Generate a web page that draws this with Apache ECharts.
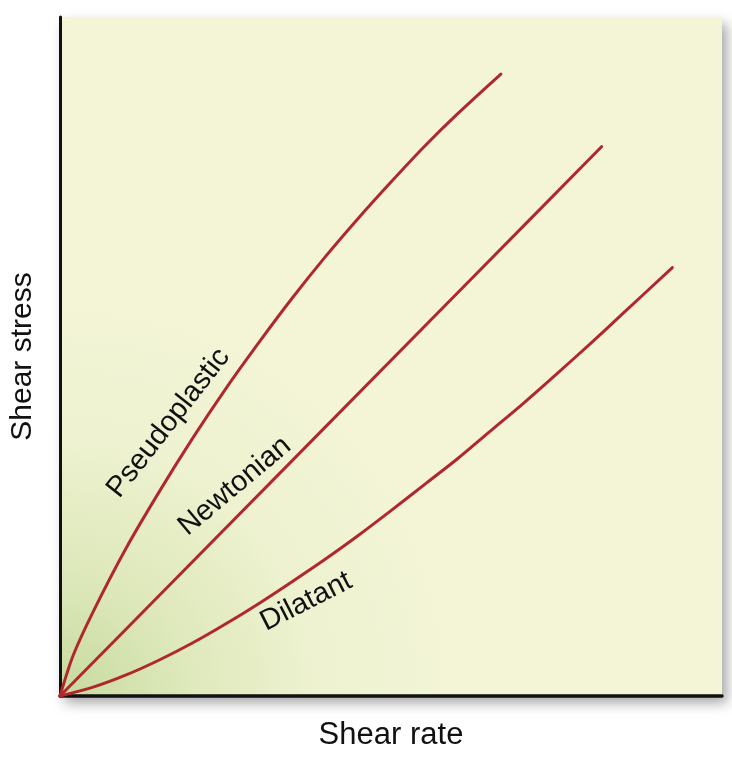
<!DOCTYPE html>
<html>
<head>
<meta charset="utf-8">
<script src="https://cdn.jsdelivr.net/npm/echarts@6/dist/echarts.min.js"></script>
<style>
html,body{margin:0;padding:0;background:#fff;}
#chart{width:732px;height:758px;}
</style>
</head>
<body>
<div id="chart"></div>
<script>
// Data (arbitrary units, 0-100 on both axes)
const pseudoX = [0, 2, 5, 10, 15, 20, 25, 30, 35, 40, 45, 50, 55, 60, 66.6];
const pseudoY = [0, 6.0, 12.4, 21.8, 30.1, 37.9, 45.2, 52.0, 58.5, 64.6, 70.3, 75.7, 80.9, 85.7, 91.6];
const newtonX = [0, 15.4, 61.3, 81.8];
const newtonY = [0, 15.2, 60.6, 80.9];
const dilatX = [0, 5, 10, 15, 20, 25, 30, 35, 40, 45, 50, 55, 60, 65, 70, 75, 80, 85, 92.5];
const dilatY = [0, 1.3, 3.1, 5.3, 7.8, 10.6, 13.6, 16.8, 20.1, 23.6, 27.3, 31.1, 34.9, 39.0, 43.1, 47.4, 51.8, 56.3, 63.1];
const curveNames = ['Pseudoplastic', 'Newtonian', 'Dilatant'];
const labelX = [16.4, 26.4, 37.2];
const labelY = [40.2, 30.9, 13.9];
const labelAngle = [52, 40, 27];
const xTitle = 'Shear rate';
const yTitle = 'Shear stress';

const zip = (xs, ys) => xs.map((x, i) => [x, ys[i]]);
const FONT = 'Liberation Sans, Arial, Helvetica, sans-serif';
const RED = '#B0282E';

const chart = echarts.init(document.getElementById('chart'), null, {renderer: 'canvas'});
const lineSeries = (name, data) => ({
  name, type: 'line', data, showSymbol: false, smooth: 0.3,
  lineStyle: {color: RED, width: 3, cap: 'round'}, silent: true, animation: false
});

chart.setOption({
  animation: false,
  grid: {
    left: 58, right: 10, top: 17, bottom: 62, show: true, borderWidth: 0,
    backgroundColor: {
      type: 'radial', x: 0, y: 1, r: 0.6,
      colorStops: [
        {offset: 0, color: '#C6DA9E'},
        {offset: 0.3, color: '#DDE8BA'},
        {offset: 0.65, color: '#EEF2D0'},
        {offset: 1, color: '#F3F5D6'}
      ]
    },
    shadowBlur: 12, shadowColor: 'rgba(0,0,0,0.35)', shadowOffsetX: 5, shadowOffsetY: 7
  },
  xAxis: {
    type: 'value', min: 0, max: 100,
    name: xTitle, nameLocation: 'middle', nameGap: 24,
    nameTextStyle: {fontFamily: FONT, fontSize: 31, color: '#111'},
    axisLine: {show: true, onZero: false, lineStyle: {color: '#111', width: 3.5}},
    axisTick: {show: false}, axisLabel: {show: false}, splitLine: {show: false}
  },
  yAxis: {
    type: 'value', min: 0, max: 100,
    name: yTitle, nameLocation: 'middle', nameGap: 22,
    nameTextStyle: {fontFamily: FONT, fontSize: 30, color: '#111'},
    axisLine: {show: true, onZero: false, lineStyle: {color: '#111', width: 3}},
    axisTick: {show: false}, axisLabel: {show: false}, splitLine: {show: false}
  },
  series: [
    lineSeries(curveNames[0], zip(pseudoX, pseudoY)),
    lineSeries(curveNames[1], zip(newtonX, newtonY)),
    lineSeries(curveNames[2], zip(dilatX, dilatY))
  ]
});

const graphics = curveNames.map((name, i) => {
  const p = chart.convertToPixel({gridIndex: 0}, [labelX[i], labelY[i]]);
  return {
    type: 'text', x: p[0], y: p[1], rotation: labelAngle[i] * Math.PI / 180,
    style: {text: name, fontFamily: FONT, fontSize: 29, fill: '#111', align: 'center', verticalAlign: 'middle'},
    z: 10
  };
});
chart.setOption({graphic: graphics});
</script>
</body>
</html>
